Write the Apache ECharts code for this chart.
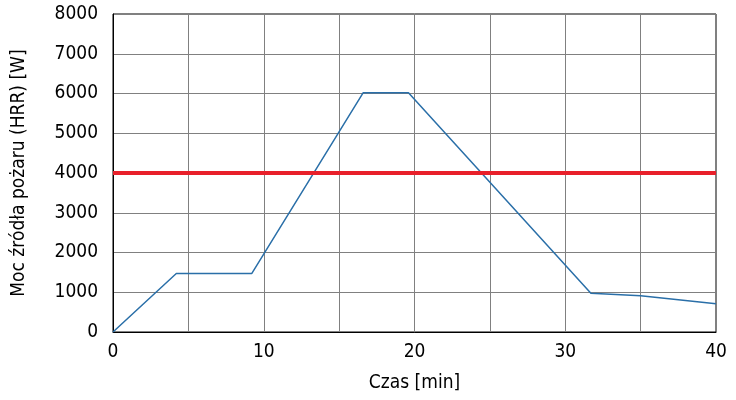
<!DOCTYPE html>
<html>
<head>
<meta charset="utf-8">
<script src="https://cdn.jsdelivr.net/npm/echarts@6/dist/echarts.min.js"></script>
<style>
  html, body { margin: 0; padding: 0; background: #fff; }
  #chart { width: 736px; height: 400px; }
</style>
</head>
<body>
<div id="chart"></div>
<script>
// HRR curve, time in minutes, power in W
const timeMin = [0, 4.2, 9.2, 16.6, 19.6, 31.7, 35, 40];
const hrrW = [0, 1470, 1470, 6020, 6020, 975, 910, 710];
const limitW = 4000;

const font = '"Liberation Sans Narrow", "DejaVu Sans Condensed", "Liberation Sans", sans-serif';

const chart = echarts.init(document.getElementById('chart'));
chart.setOption({
  animation: false,
  grid: {
    left: 113, right: 20, top: 14, bottom: 68,
    show: true, borderColor: '#000', borderWidth: 1,
  },
  xAxis: {
    type: 'value', min: 0, max: 40, interval: 5,
    name: 'Czas [min]', nameLocation: 'middle', nameGap: 42,
    nameTextStyle: { fontFamily: font, fontSize: 19, color: '#000' },
    axisLine: { lineStyle: { color: '#000' } },
    axisTick: { show: false },
    axisLabel: {
      fontFamily: font, fontSize: 19, color: '#000', margin: 11,
      formatter: v => (v % 10 === 0 ? String(v) : ''),
    },
    splitLine: { lineStyle: { color: '#808080', width: 1 } },
  },
  yAxis: {
    type: 'value', min: 0, max: 8000, interval: 1000,
    name: 'Moc źródła pożaru (HRR) [W]', nameLocation: 'middle', nameGap: 84,
    nameTextStyle: { fontFamily: font, fontSize: 19, color: '#000' },
    axisLine: { show: true, lineStyle: { color: '#000' } },
    axisTick: { show: false },
    axisLabel: {
      fontFamily: font, fontSize: 19, color: '#000', margin: 15,
      formatter: v => String(v),
    },
    splitLine: { lineStyle: { color: '#808080', width: 1 } },
  },
  series: [
    {
      type: 'line',
      data: timeMin.map((t, i) => [t, hrrW[i]]),
      showSymbol: false,
      lineStyle: { color: '#2a6fa8', width: 1.5 },
      z: 3,
      markLine: {
        silent: true, symbol: 'none', label: { show: false },
        lineStyle: { color: '#e8202a', width: 4, type: 'solid' },
        data: [{ yAxis: limitW }],
      },
    },
  ],
});
</script>
</body>
</html>
